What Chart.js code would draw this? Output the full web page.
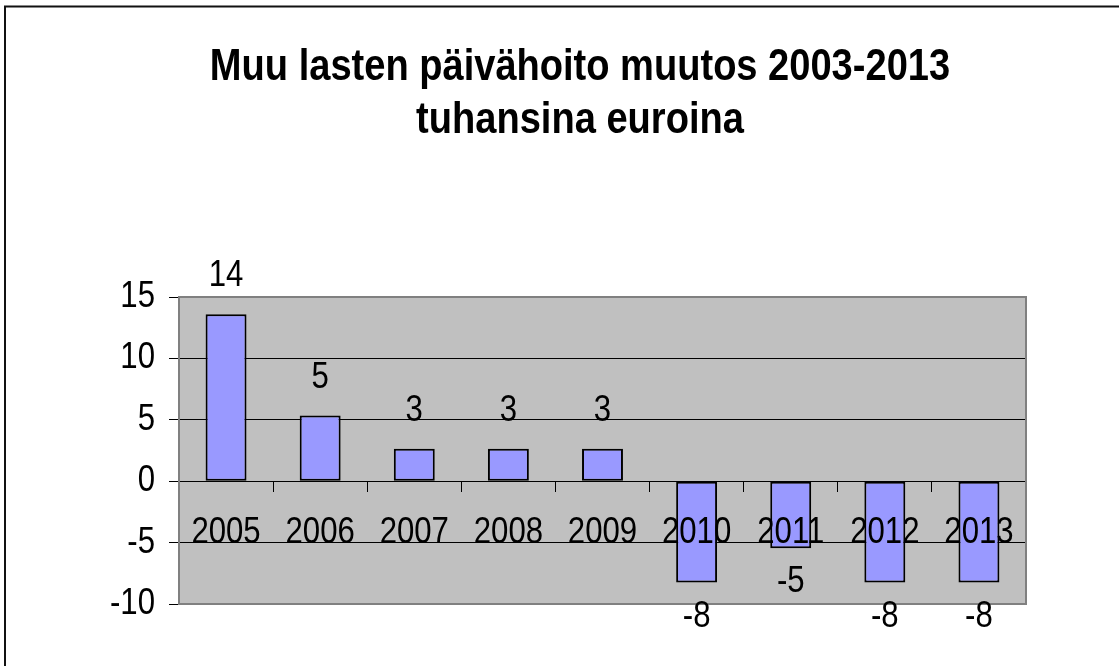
<!DOCTYPE html>
<html lang="fi">
  <head>
    <meta charset="UTF-8" />
    <title>Muu lasten päivähoito muutos 2003-2013</title>
    <style>
      * {
        box-sizing: border-box;
        margin: 0;
        padding: 0;
      }
      body {
        background-color: #ffffff;
        width: 1119px;
        height: 666px;
        overflow: hidden;
      }
    </style>
    <script src="https://cdn.jsdelivr.net/npm/chart.js"></script>
  </head>
  <body>
    <canvas id="muutosChart" width="1119" height="666"></canvas>
    <script>
      // data (thousands of euros)
      const years = ["2005", "2006", "2007", "2008", "2009", "2010", "2011", "2012", "2013"];
      const changes = [13.6, 5.35, 2.65, 2.65, 2.65, -8.25, -5.45, -8.25, -8.25];
      const yTicks = [-10, -5, 0, 5, 10, 15];
      const titleLines = ["Muu lasten päivähoito muutos 2003-2013", "tuhansina euroina"];

      const FONT = '"Liberation Sans", Arial, sans-serif';
      const TEXT_SQUEEZE = 0.865; // the original text is drawn a bit narrow

      // narrow every text draw around its anchor point
      const narrowText = {
        id: "narrowText",
        beforeInit(chart) {
          const ctx = chart.ctx;
          const fill = ctx.fillText;
          ctx.fillText = function (text, x, y, maxWidth) {
            this.save();
            this.translate(x, y);
            this.scale(TEXT_SQUEEZE, 1);
            fill.call(this, text, 0, 0);
            this.restore();
          };
        },
      };

      // two line title, centred a little right of the canvas middle like the original
      const chartTitle = {
        id: "chartTitle",
        afterDraw(chart) {
          const { ctx } = chart;
          ctx.save();
          ctx.font = "bold 44px " + FONT;
          ctx.fillStyle = "#000";
          ctx.textAlign = "center";
          ctx.textBaseline = "alphabetic";
          titleLines.forEach((line, i) => {
            ctx.fillText(line, 580, 80 + i * 53);
          });
          ctx.restore();
        },
      };

      // gray plot area, gray frame and the outer chart border
      const plotArea = {
        id: "plotArea",
        beforeDraw(chart) {
          const { ctx } = chart;
          const a = chart.chartArea;
          ctx.save();
          ctx.fillStyle = "#c0c0c0";
          ctx.fillRect(a.left, a.top, a.right - a.left, a.bottom - a.top);
          ctx.strokeStyle = "#111";
          ctx.lineWidth = 2;
          ctx.beginPath();
          ctx.moveTo(5, 1000);
          ctx.lineTo(5, 6.5);
          ctx.lineTo(1200, 6.5);
          ctx.stroke();
          ctx.restore();
        },
        beforeDatasetsDraw(chart) {
          const { ctx } = chart;
          const a = chart.chartArea;
          ctx.save();
          ctx.strokeStyle = "#808080";
          ctx.lineWidth = 2;
          ctx.beginPath();
          ctx.moveTo(a.left, a.top);
          ctx.lineTo(a.right, a.top);
          ctx.lineTo(a.right, a.bottom);
          ctx.lineTo(a.left, a.bottom);
          ctx.stroke();
          ctx.restore();
        },
      };

      // value labels outside the end of each bar
      const valueLabels = {
        id: "valueLabels",
        afterDatasetsDraw(chart) {
          const { ctx } = chart;
          const meta = chart.getDatasetMeta(0);
          ctx.save();
          ctx.font = "36px " + FONT;
          ctx.fillStyle = "#000";
          ctx.textAlign = "center";
          ctx.textBaseline = "alphabetic";
          meta.data.forEach((bar, i) => {
            const v = changes[i];
            const text = String(Math.round(v));
            if (v >= 0) {
              ctx.fillText(text, bar.x, bar.y - 28);
            } else {
              ctx.fillText(text, bar.x, bar.y + 44);
            }
          });
          ctx.restore();
        },
      };

      new Chart(document.getElementById("muutosChart"), {
        type: "bar",
        data: {
          labels: years,
          datasets: [
            {
              data: changes,
              backgroundColor: "#9999ff",
              borderColor: "#000000",
              borderWidth: 2,
              borderSkipped: false,
              categoryPercentage: 1,
              barPercentage: 0.435,
            },
          ],
        },
        options: {
          responsive: false,
          animation: false,
          layout: {
            padding: { left: 79, right: 93, top: 297, bottom: 62 },
          },
          plugins: {
            legend: { display: false },
            tooltip: { enabled: false },
            title: { display: false },
          },
          scales: {
            x: {
              position: { y: 0 },
              offset: true,
              grid: {
                offset: true,
                drawOnChartArea: false,
                tickLength: 10,
                tickColor: "#000",
              },
              border: { display: true, color: "#000", width: 1 },
              ticks: {
                z: 1,
                color: "#000",
                padding: 20,
                maxRotation: 0,
                autoSkip: false,
                font: { family: FONT, size: 36 },
              },
            },
            y: {
              min: yTicks[0],
              max: yTicks[yTicks.length - 1],
              afterBuildTicks(scale) {
                scale.ticks = yTicks.map((v) => ({ value: v }));
              },
              afterFit(scale) {
                scale.width = 100;
              },
              grid: {
                color: (c) =>
                  c.tick && (c.tick.value === yTicks[0] || c.tick.value === yTicks[yTicks.length - 1])
                    ? "rgba(0,0,0,0)"
                    : "#000",
                tickColor: "#000",
                tickLength: 10,
                lineWidth: 1,
              },
              border: { display: true, color: "#808080", width: 2 },
              ticks: {
                color: "#000",
                padding: 14,
                font: { family: FONT, size: 36 },
              },
            },
          },
        },
        plugins: [narrowText, plotArea, valueLabels, chartTitle],
      });
    </script>
  </body>
</html>
